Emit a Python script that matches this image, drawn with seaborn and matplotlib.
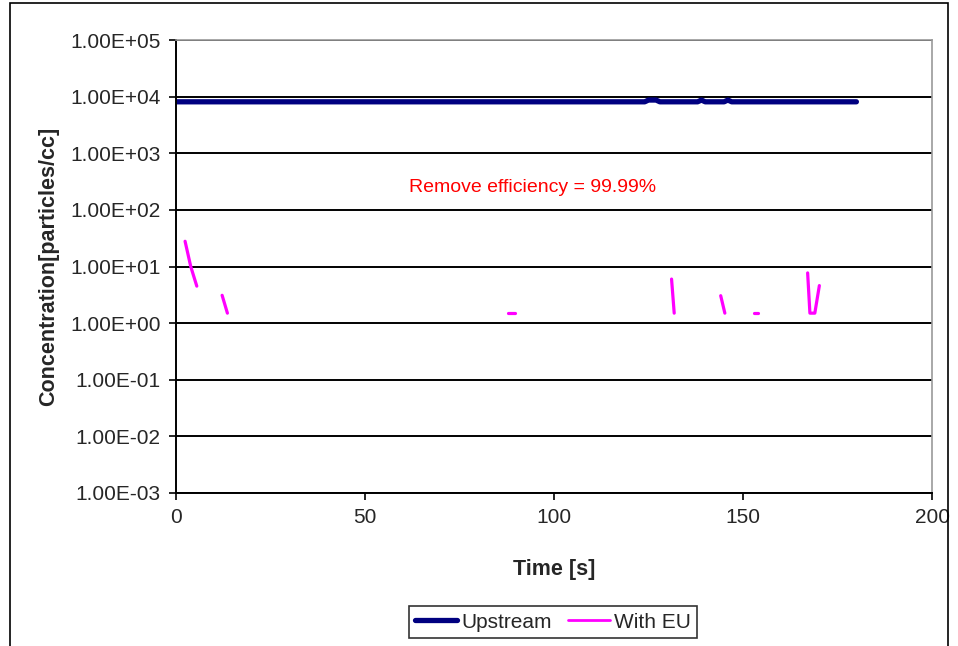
import pandas as pd
import numpy as np
import matplotlib
matplotlib.use("Agg")
import matplotlib.pyplot as plt
import seaborn as sns
from matplotlib.lines import Line2D
from matplotlib.patches import Rectangle
from matplotlib.ticker import FuncFormatter

# Upstream concentration
upstream_time = [0, 124, 125, 127, 128, 138, 139, 140, 145, 146, 147, 180]
upstream_conc = [8100, 8100, 8700, 8700, 8100, 8100, 8700, 8100, 8100, 8700, 8100, 8100]

# With EU: short broken segments, one id per segment
eu_seg = [1, 1, 1, 2, 2, 3, 3, 4, 4, 5, 5, 6, 6, 7, 7, 7, 7]
eu_time = [2.4, 3.9, 5.5, 12.2, 13.6, 87.9, 89.7, 131.1, 131.8,
           144.1, 145.2, 152.8, 154.0, 167.1, 167.7, 169.0, 170.2]
eu_conc = [27.9, 10.0, 4.5, 3.1, 1.5, 1.5, 1.5, 6.0, 1.5,
           3.05, 1.5, 1.5, 1.5, 7.7, 1.5, 1.5, 4.6]

y_ticks = [1e-3, 1e-2, 1e-1, 1e0, 1e1, 1e2, 1e3, 1e4, 1e5]
x_ticks = [0, 50, 100, 150, 200]

up_df = pd.DataFrame({"time": upstream_time, "conc": upstream_conc})
eu_df = pd.DataFrame({"seg": eu_seg, "time": eu_time, "conc": eu_conc})

sns.set_style("white")
plt.rcParams["font.family"] = ["Liberation Sans", "DejaVu Sans"]

fig = plt.figure(figsize=(9.58, 6.46), dpi=100)
ax = fig.add_axes([176 / 958, 1 - 493 / 646, (932 - 176) / 958, (493 - 40) / 646])

sns.lineplot(data=up_df, x="time", y="conc", color="#000080", linewidth=3.8,
             solid_capstyle="round", ax=ax)
sns.lineplot(data=eu_df, x="time", y="conc", units="seg", estimator=None,
             color="#FF00FF", linewidth=2.3, solid_capstyle="round",
             solid_joinstyle="round", ax=ax)

ax.set_yscale("log")
ax.set_ylim(1e-3, 1e5)
ax.set_xlim(0, 200)
ax.set_yticks(y_ticks)
ax.set_xticks(x_ticks)
ax.yaxis.set_major_formatter(FuncFormatter(lambda v, p: f"{v:.2E}"))
ax.yaxis.set_minor_locator(matplotlib.ticker.NullLocator())
ax.tick_params(axis="both", labelsize=15, direction="out", length=5, width=1.2,
               color="black", left=True, bottom=True, pad=6)

ax.grid(True, axis="y", color="black", linewidth=1.4)
ax.grid(False, axis="x")
for s in ["top", "right"]:
    ax.spines[s].set_color("#999999")
    ax.spines[s].set_linewidth(1.2)
for s in ["left", "bottom"]:
    ax.spines[s].set_color("black")
    ax.spines[s].set_linewidth(1.4)

ax.set_xlabel("Time [s]", fontsize=15.5, fontweight="bold", labelpad=23)
ax.set_ylabel("Concentration[particles/cc]", fontsize=15.5, fontweight="bold", labelpad=8)

ax.text(94.4, 10 ** 2.39, "Remove efficiency = 99.99%", color="#FF0000",
        fontsize=14, ha="center", va="center")

handles = [Line2D([], [], color="#000080", linewidth=3.8, solid_capstyle="round"),
           Line2D([], [], color="#FF00FF", linewidth=2.0)]
leg = fig.legend(handles, ["Upstream", "With EU"], loc="center", ncol=2,
                 bbox_to_anchor=(553 / 958, 1 - 622 / 646), fontsize=15,
                 frameon=True, fancybox=False, edgecolor="black",
                 handlelength=2.0, handletextpad=0.2, columnspacing=0.8,
                 borderpad=0.3)
leg.get_frame().set_linewidth(1.2)

fig.patches.append(Rectangle((10 / 958, -0.05), 938 / 958, 1.05 - 3 / 646,
                             transform=fig.transFigure, fill=False,
                             edgecolor="black", linewidth=1.2))

fig.savefig("out.png", dpi=100)
